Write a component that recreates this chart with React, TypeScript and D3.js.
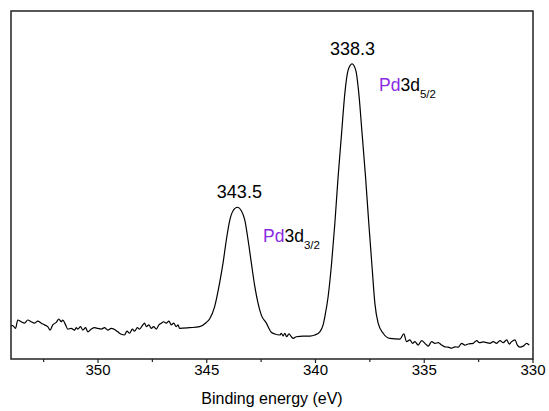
import React from "react";
import * as d3 from "d3";

// Binding energy (eV) and intensity (a.u.)
const energy: number[] = [
  354.0, 353.92, 353.79, 353.69, 353.53, 353.38, 353.23, 353.07, 352.92, 352.77,
  352.61, 352.46, 352.31, 352.2, 352.08, 351.92, 351.8, 351.69, 351.62, 351.49,
  351.39, 351.23, 351.08, 351.0, 350.93, 350.8, 350.7, 350.57, 350.47, 350.31,
  350.16, 350.01, 349.85, 349.7, 349.55, 349.39, 349.24, 349.09, 348.93, 348.78,
  348.67, 348.55, 348.42, 348.32, 348.19, 348.09, 347.96, 347.86, 347.78, 347.66,
  347.55, 347.44, 347.32, 347.2, 347.09, 346.98, 346.86, 346.74, 346.63, 346.52,
  346.4, 346.32, 346.25, 345.79, 345.33, 345.02, 344.87, 344.64, 344.41, 344.25,
  344.1, 343.94, 343.79, 343.59, 343.41, 343.25, 343.1, 342.95, 342.79, 342.64,
  342.49, 342.26, 342.02, 341.87, 341.64, 341.57, 341.49, 341.41, 341.33, 341.22,
  341.11, 341.03, 340.88, 340.57, 340.26, 340.03, 339.8, 339.65, 339.57, 339.42,
  339.26, 339.11, 338.96, 338.8, 338.65, 338.5, 338.32, 338.15, 338.01, 337.86,
  337.7, 337.55, 337.4, 337.27, 337.12, 336.89, 336.58, 336.12, 335.94, 335.81,
  335.66, 335.54, 335.43, 335.28, 335.12, 334.97, 334.82, 334.66, 334.51, 334.36,
  334.2, 334.05, 333.9, 333.74, 333.59, 333.44, 333.28, 333.13, 332.98, 332.75,
  332.59, 332.47, 332.29, 332.13, 331.98, 331.83, 331.67, 331.52, 331.37, 331.21,
  331.09, 330.98, 330.83, 330.72, 330.6, 330.45, 330.29, 330.17,
];

const intensity: number[] = [
  9.6, 9.6, 8.8, 11.2, 10.7, 10.3, 11.2, 10.7, 10.3, 10.9,
  10.3, 9.8, 9.3, 8.3, 9.8, 10.5, 11.5, 10.7, 11.2, 9.8,
  8.6, 8.8, 8.3, 9.0, 8.6, 9.3, 8.3, 9.0, 7.8, 8.6,
  9.0, 8.8, 8.6, 9.0, 8.3, 8.8, 8.5, 7.8, 7.1, 6.9,
  8.0, 7.4, 8.6, 8.0, 9.0, 8.6, 9.6, 10.3, 9.3, 9.8,
  8.8, 9.3, 8.6, 9.8, 10.3, 10.7, 10.3, 10.9, 9.8, 10.3,
  9.3, 9.8, 8.8, 9.0, 9.3, 10.5, 11.5, 15.0, 21.8, 27.6,
  34.2, 39.9, 42.6, 43.6, 42.6, 39.9, 34.2, 27.6, 20.8, 16.0,
  12.6, 10.3, 7.6, 7.2, 6.9, 7.4, 6.6, 7.4, 6.4, 7.2,
  6.4, 5.9, 6.4, 6.6, 6.6, 6.9, 7.8, 9.8, 12.2, 17.9,
  27.5, 39.0, 52.4, 64.9, 76.4, 83.0, 84.8, 83.0, 76.4, 64.9,
  52.4, 39.0, 26.5, 16.0, 10.3, 7.4, 5.9, 5.7, 7.2, 5.0,
  5.5, 4.5, 5.0, 4.0, 5.3, 4.5, 3.7, 5.0, 4.5, 4.7,
  4.0, 3.5, 3.4, 3.1, 3.5, 3.4, 4.5, 4.0, 4.3, 4.5,
  5.3, 4.7, 4.9, 4.7, 4.5, 5.0, 4.5, 5.3, 4.7, 5.5,
  4.3, 5.0, 5.5, 4.0, 3.4, 3.7, 4.5, 4.0,
];

const majorTicks: number[] = [350, 345, 340, 335, 330];
const minorTicks: number[] = [352.5, 347.5, 342.5, 337.5, 332.5];
const peakEnergies: number[] = [343.5, 338.3];
const peakLabels: string[] = ["343.5", "338.3"];
const xTitle = "Binding energy (eV)";

const W = 549;
const H = 411;
const L = 11;
const R = 533;
const T = 11;
const B = 359;

export default function App() {
  const x = d3.scaleLinear().domain([354, 330]).range([L, R]);
  const y = d3.scaleLinear().domain([0, 100]).range([B, T]);
  const pts = energy.map((e, i) => [e, intensity[i]] as [number, number]);
  const line = d3
    .line<[number, number]>()
    .x((d) => x(d[0]))
    .y((d) => y(d[1]))
    .curve(d3.curveMonotoneX);
  const font = "'Liberation Sans', Arial, sans-serif";
  const peakI = peakEnergies.map((pe) => {
    let best = 0;
    energy.forEach((e, i) => {
      if (Math.abs(e - pe) < Math.abs(energy[best] - pe)) best = i;
    });
    return intensity[best];
  });
  return (
    <svg
      width={W}
      height={H}
      style={{ position: "absolute", left: 0, top: 0, background: "#fff" }}
      fontFamily={font}
    >
      <path d={line(pts) || ""} fill="none" stroke="#000" strokeWidth={1.2} />
      <rect
        x={L}
        y={T}
        width={R - L}
        height={B - T}
        fill="none"
        stroke="#222"
        strokeWidth={1.5}
      />
      {majorTicks.map((t) => (
        <g key={"M" + t}>
          <line x1={x(t)} x2={x(t)} y1={B} y2={B + 4} stroke="#222" strokeWidth={1.2} />
          <text x={x(t)} y={375} textAnchor="middle" fontSize={15} fill="#000">
            {t}
          </text>
        </g>
      ))}
      {minorTicks.map((t) => (
        <line key={"m" + t} x1={x(t)} x2={x(t)} y1={B} y2={B + 3} stroke="#222" strokeWidth={1.2} />
      ))}
      <text x={(L + R) / 2} y={404} textAnchor="middle" fontSize={16} fill="#000">
        {xTitle}
      </text>
      {peakEnergies.map((pe, i) => (
        <text
          key={"p" + i}
          x={x(pe)}
          y={y(peakI[i]) - 9}
          textAnchor="middle"
          fontSize={18}
          fill="#000"
        >
          {peakLabels[i]}
        </text>
      ))}
      <text x={379} y={91} fontSize={17.5} fill="#000">
        <tspan fill="#8a2be2">Pd</tspan>
        <tspan>3d</tspan>
        <tspan fontSize={11.5} dy={7}>5/2</tspan>
      </text>
      <text x={263} y={242} fontSize={17.5} fill="#000">
        <tspan fill="#8a2be2">Pd</tspan>
        <tspan>3d</tspan>
        <tspan fontSize={11.5} dy={7}>3/2</tspan>
      </text>
    </svg>
  );
}
